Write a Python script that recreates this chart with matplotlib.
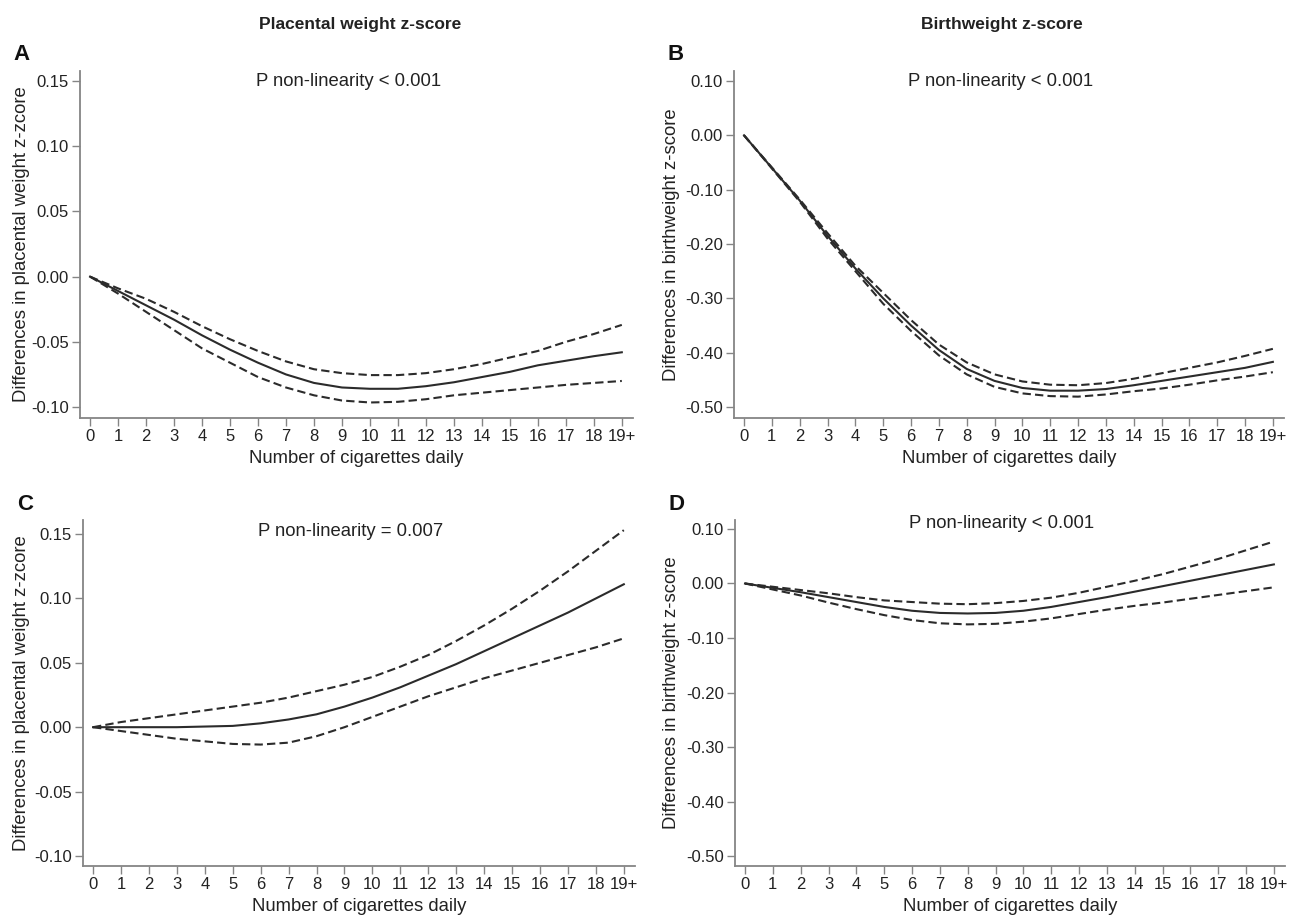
import matplotlib
matplotlib.use('Agg')
import matplotlib.pyplot as plt

plt.rcParams['font.family'] = ['Liberation Sans', 'DejaVu Sans']

# x categories (cigarettes per day)
cigs = list(range(20))
cig_labels = [str(i) for i in range(19)] + ['19+']

# A: placental weight, model 1
a_est = [0, -0.011, -0.022, -0.033, -0.045, -0.056, -0.066, -0.075, -0.0815, -0.085,
         -0.086, -0.086, -0.084, -0.081, -0.077, -0.073, -0.068, -0.0645, -0.061, -0.058]
a_up = [0, -0.009, -0.017, -0.027, -0.038, -0.048, -0.057, -0.065, -0.071, -0.074,
        -0.0755, -0.0755, -0.074, -0.071, -0.067, -0.062, -0.057, -0.050, -0.044, -0.037]
a_lo = [0, -0.013, -0.027, -0.041, -0.055, -0.066, -0.077, -0.085, -0.091, -0.095,
        -0.0965, -0.096, -0.094, -0.091, -0.089, -0.087, -0.085, -0.083, -0.0815, -0.080]

# B: birthweight, model 1
b_est = [0, -0.06, -0.12, -0.185, -0.245, -0.30, -0.35, -0.395, -0.43, -0.452,
         -0.465, -0.47, -0.47, -0.467, -0.46, -0.452, -0.444, -0.436, -0.428, -0.417]
b_up = [0, -0.059, -0.118, -0.18, -0.24, -0.29, -0.34, -0.385, -0.418, -0.44,
        -0.453, -0.459, -0.46, -0.456, -0.448, -0.438, -0.428, -0.418, -0.406, -0.393]
b_lo = [0, -0.061, -0.122, -0.19, -0.25, -0.31, -0.36, -0.405, -0.44, -0.463,
        -0.475, -0.48, -0.481, -0.477, -0.471, -0.466, -0.459, -0.451, -0.444, -0.436]

# C: placental weight, model 2
c_est = [0, 0, 0, 0, 0.0005, 0.001, 0.003, 0.006, 0.010, 0.016,
         0.023, 0.031, 0.040, 0.049, 0.059, 0.069, 0.079, 0.089, 0.100, 0.111]
c_up = [0, 0.004, 0.007, 0.010, 0.013, 0.016, 0.019, 0.023, 0.028, 0.033,
        0.039, 0.047, 0.056, 0.067, 0.079, 0.092, 0.106, 0.121, 0.137, 0.153]
c_lo = [0, -0.003, -0.006, -0.009, -0.011, -0.013, -0.0135, -0.012, -0.007, 0.000,
        0.008, 0.016, 0.024, 0.031, 0.038, 0.044, 0.050, 0.056, 0.062, 0.069]

# D: birthweight, model 2
d_est = [0, -0.008, -0.016, -0.025, -0.034, -0.043, -0.050, -0.054, -0.055, -0.054,
         -0.050, -0.043, -0.034, -0.025, -0.015, -0.005, 0.005, 0.015, 0.025, 0.035]
d_up = [0, -0.006, -0.012, -0.018, -0.025, -0.031, -0.034, -0.037, -0.038, -0.036,
        -0.032, -0.026, -0.017, -0.006, 0.005, 0.017, 0.031, 0.045, 0.061, 0.077]
d_lo = [0, -0.011, -0.022, -0.035, -0.047, -0.058, -0.067, -0.073, -0.075, -0.074,
        -0.070, -0.064, -0.056, -0.048, -0.041, -0.035, -0.028, -0.021, -0.014, -0.007]

pw_ticks = [-0.10, -0.05, 0.00, 0.05, 0.10, 0.15]
bw_ticks = [-0.50, -0.40, -0.30, -0.20, -0.10, 0.00, 0.10]

W, H = 1290, 917
fig = plt.figure(figsize=(W / 100, H / 100), dpi=100)

line_col = '#2b2b2b'
spine_col = '#858585'
text_col = '#222222'

panels = [
    # letter, axes box (left, right, top, bottom px), data, yticks, ylim, ylabel, p text, p-text y, ylabel x
    ('A', (80, 633, 71, 418), (a_est, a_up, a_lo), pw_ticks, (-0.1084, 0.1577),
     'Differences in placental weight z-zcore', 'P non-linearity < 0.001', 81, 20),
    ('B', (734, 1284, 71, 418), (b_est, b_up, b_lo), bw_ticks, (-0.5203, 0.1184),
     'Differences in birthweight z-score', 'P non-linearity < 0.001', 81, 670),
    ('C', (83, 635, 520, 866), (c_est, c_up, c_lo), pw_ticks, (-0.1078, 0.1609),
     'Differences in placental weight z-zcore', 'P non-linearity = 0.007', 531, 20),
    ('D', (735, 1285, 520, 866), (d_est, d_up, d_lo), bw_ticks, (-0.5183, 0.1165),
     'Differences in birthweight z-score', 'P non-linearity < 0.001', 524, 670),
]

for letter, box, (est, up, lo), yt, yl, ylab, ptxt, py, ylx in panels:
    left, right, top, bottom = box
    ax = fig.add_axes([left / W, 1 - bottom / H, (right - left) / W, (bottom - top) / H])
    ax.plot(cigs, est, color=line_col, lw=1.5)
    ax.plot(cigs, up, color=line_col, lw=1.5, dashes=(4, 2))
    ax.plot(cigs, lo, color=line_col, lw=1.5, dashes=(4, 2))
    ax.set_xlim(-0.36, 19.4)
    ax.set_ylim(*yl)
    ax.set_xticks(cigs)
    ax.set_xticklabels(cig_labels)
    ax.set_yticks(yt)
    ax.set_yticklabels(['%.2f' % v for v in yt])
    for s in ['top', 'right']:
        ax.spines[s].set_visible(False)
    for s in ['left', 'bottom']:
        ax.spines[s].set_color(spine_col)
        ax.spines[s].set_linewidth(1.3)
    ax.tick_params(direction='out', length=6, width=1, color=spine_col,
                   labelsize=12, labelcolor=text_col, pad=2)
    ax.set_xlabel('Number of cigarettes daily', fontsize=13.3, color=text_col)
    ax.xaxis.set_label_coords(0.5, -(bottom + 32 - bottom) / (bottom - top))
    ax.set_ylabel(ylab, fontsize=13.3, color=text_col)
    ax.yaxis.set_label_coords((ylx + 10 - left) / (right - left), 0.5)
    fig.text(((left + right) / 2 - 8) / W, 1 - py / H, ptxt, ha='center', va='center',
             fontsize=13.3, color=text_col)
    fig.text((left - 58) / W, 1 - (top - 16) / H, letter, fontsize=16,
             fontweight='bold', ha='center', va='center', color='#111111')

fig.text(360 / W, 1 - 25 / H, 'Placental weight z-score', fontsize=12.5,
         fontweight='bold', ha='center', va='center', color=text_col)
fig.text(1002 / W, 1 - 25 / H, 'Birthweight z-score', fontsize=12.5,
         fontweight='bold', ha='center', va='center', color=text_col)

fig.savefig('out.png', dpi=100, facecolor='white')
